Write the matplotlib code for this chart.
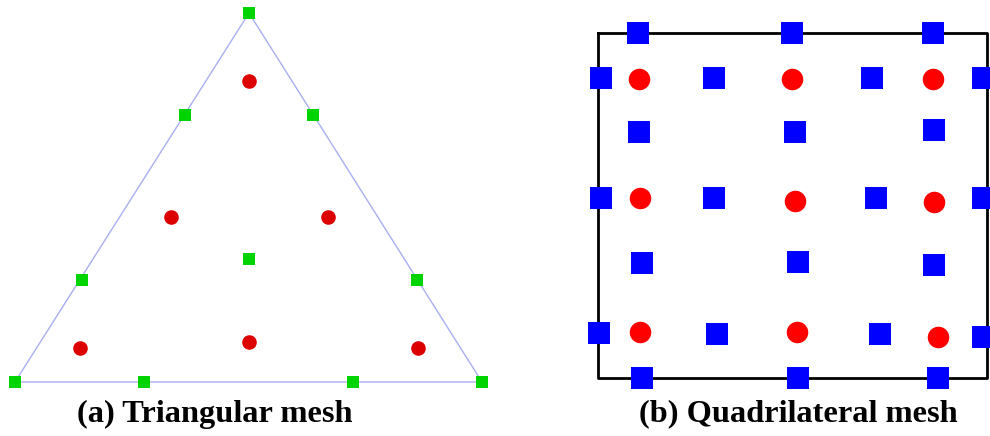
import matplotlib.pyplot as plt

# (a) triangular mesh, pixel coordinates
tri_corner_x = [15, 249, 482, 15]
tri_corner_y = [382, 13, 382, 382]
tri_node_x = [249, 185, 313, 82, 417, 249, 15, 144, 353, 482]
tri_node_y = [13, 115, 115, 280, 280, 259, 382, 382, 382, 382]
tri_pt_x = [249, 171, 328, 80, 249, 418]
tri_pt_y = [81, 217, 217, 348, 342, 348]

# (b) quadrilateral mesh
quad_box_x = [598, 987, 987, 598, 598]
quad_box_y = [33, 33, 378, 378, 33]
quad_node_x = [638, 792, 933,
               601, 714, 872, 983,
               639, 795, 934,
               601, 714, 876, 983,
               642, 798, 934,
               599, 717, 880, 983,
               642, 798, 938]
quad_node_y = [33, 33, 33,
               78, 78, 78, 78,
               132, 132, 130,
               198, 198, 198, 198,
               263, 262, 265,
               333, 334, 334, 337,
               378, 378, 378]
quad_pt_x = [639, 792, 933, 640, 795, 934, 640, 797, 938]
quad_pt_y = [79, 79, 79, 198, 201, 202, 332, 332, 337]

captions = ['(a) Triangular mesh', '(b) Quadrilateral mesh']
caption_x = [215, 798]

fig = plt.figure(figsize=(9.9, 4.36), dpi=100)
ax = fig.add_axes([0, 0, 1, 1])
ax.set_xlim(0, 990)
ax.set_ylim(436, 0)
ax.axis('off')

# triangle
ax.plot(tri_corner_x, tri_corner_y, color='#a9aef2', lw=1.0, zorder=1)
ax.plot(tri_node_x, tri_node_y, 's', color='#00d400', ms=8.6, mew=0, zorder=3)
ax.plot(tri_pt_x, tri_pt_y, 'o', color='#dc0000', ms=10.5, mew=0, zorder=3)

# quad
ax.plot(quad_box_x, quad_box_y, color='black', lw=2.0, zorder=1)
ax.plot(quad_node_x, quad_node_y, 's', color='#0000ff', ms=15.5, mew=0, zorder=3)
ax.plot(quad_pt_x, quad_pt_y, 'o', color='#ff0000', ms=15.5, mew=0, zorder=3)

for txt, x in zip(captions, caption_x):
    ax.text(x, 414, txt, ha='center', va='center', fontsize=23.3,
            fontweight='bold', family='Liberation Serif')

fig.savefig('out.png', dpi=100)
